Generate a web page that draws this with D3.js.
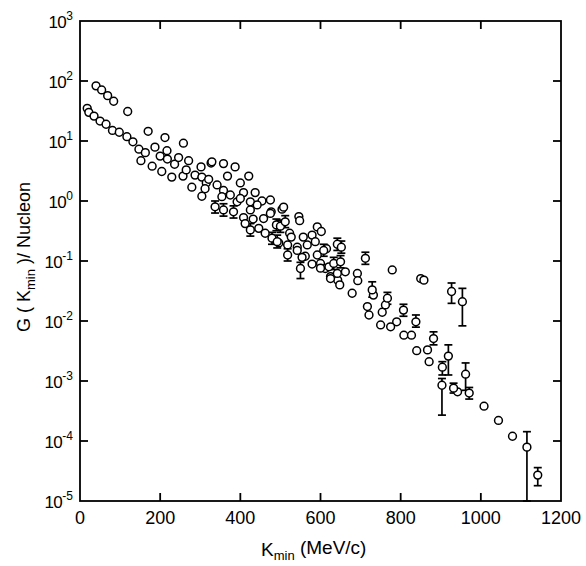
<!DOCTYPE html>
<html>
<head>
<meta charset="utf-8">
<script src="https://cdn.jsdelivr.net/npm/d3@7"></script>
<style>
  body { margin: 0; background: #fff; }
  svg text { font-family: 'Liberation Sans', Arial, sans-serif; fill: #000; }
</style>
</head>
<body>
<svg id="chart" width="586" height="566"></svg>
<script>
// plain points [K_min (MeV/c), G per nucleon]
const points = [
	[40, 83], [54, 71], [69, 57], [84, 46], [119, 31],
	[18, 35], [22, 30], [35, 26], [50, 21.5], [65, 19], [81, 15], [98, 14], [117, 11.8],
	[132, 9.7], [147, 7.3], [163, 6.4], [152, 4.7], [170, 14.5], [187, 7.9], [180, 3.8],
	[212, 11.4], [217, 6.9], [200, 5.6], [204, 3.1], [218, 5.0], [229, 2.5], [236, 4.1],
	[246, 5.3], [258, 9.2], [257, 2.6], [271, 4.7], [265, 3.3], [279, 1.7], [287, 2.7],
	[302, 3.7], [304, 2.5], [315, 2.0], [304, 1.2], [327, 4.3],
	[329, 4.5], [358, 4.2], [387, 3.7], [368, 2.6], [421, 2.6], [400, 2.0], [321, 2.3],
	[312, 1.6], [342, 1.85], [358, 1.5], [375, 1.26], [408, 1.38], [437, 1.38], [354, 1.18],
	[392, 0.97], [400, 1.1], [425, 0.97], [454, 1.0], [475, 1.04], [425, 0.71], [442, 0.86],
	[477, 0.66], [504, 0.73], [508, 0.79], [408, 0.53], [432, 0.5], [458, 0.51], [412, 0.42],
	[446, 0.35], [462, 0.29], [496, 0.2], [523, 0.29], [546, 0.55], [548, 0.47], [527, 0.25],
	[557, 0.25], [579, 0.27], [592, 0.37], [602, 0.31], [542, 0.17], [518, 0.185], [567, 0.185],
	[587, 0.21], [615, 0.16], [592, 0.126], [562, 0.12], [475, 0.62], [542, 0.15], [554, 0.115],
	[579, 0.089], [600, 0.091], [612, 0.075], [625, 0.055], [643, 0.048], [648, 0.04], [621, 0.08],
	[662, 0.066], [600, 0.076], [642, 0.062], [625, 0.051], [692, 0.062], [693, 0.047], [679, 0.029],
	[732, 0.027], [779, 0.071], [850, 0.051], [858, 0.048], [717, 0.0174], [721, 0.0126],
	[754, 0.014], [762, 0.0185], [790, 0.0097], [775, 0.008], [750, 0.0086], [808, 0.0058],
	[827, 0.0058], [840, 0.0032], [867, 0.0033], [871, 0.0021], [942, 0.00066],
	[1008, 0.00038], [1044, 0.00022], [1079, 0.00012]
];

// points with error bars [K_min, G, low, high]
const errorPoints = [
	[337, 0.80, 0.63, 1.0], [358, 0.71, 0.56, 0.9], [383, 0.66, 0.52, 0.83], [425, 0.33, 0.26, 0.42],
	[490, 0.40, 0.32, 0.5], [500, 0.38, 0.30, 0.48], [512, 0.45, 0.36, 0.57], [479, 0.24, 0.19, 0.30],
	[492, 0.21, 0.165, 0.27], [518, 0.126, 0.10, 0.16], [550, 0.075, 0.051, 0.095], [608, 0.15, 0.12, 0.19],
	[642, 0.19, 0.15, 0.24], [652, 0.17, 0.135, 0.215], [633, 0.091, 0.072, 0.115], [650, 0.097, 0.077, 0.123],
	[712, 0.111, 0.088, 0.14], [729, 0.033, 0.025, 0.045], [767, 0.024, 0.019, 0.03], [807, 0.0152, 0.012, 0.019],
	[838, 0.0097, 0.0079, 0.0126], [882, 0.0051, 0.004, 0.0066], [904, 0.0017, 0.00126, 0.0021],
	[903, 0.00085, 0.00027, 0.0011], [919, 0.0026, 0.00126, 0.004], [927, 0.031, 0.0197, 0.043],
	[954, 0.021, 0.0083, 0.035], [932, 0.00076, 0.00063, 0.00092], [962, 0.0013, 0.0007, 0.002],
	[971, 0.00063, 0.0005, 0.00078], [1115, 7.9e-5, 1e-5, 1.43e-4], [1142, 2.7e-5, 1.8e-5, 3.6e-5]
];

const xTicks = [0, 200, 400, 600, 800, 1000, 1200];
const yExponents = [-5, -4, -3, -2, -1, 0, 1, 2, 3];

const svg = d3.select('#chart');
const plot = { left: 80, right: 561, top: 21, bottom: 501 };

const x = d3.scaleLinear().domain([0, 1200]).range([plot.left, plot.right]);
const y = d3.scaleLog().domain([1e-5, 1e3]).range([plot.bottom, plot.top]);
const pow10 = (e) => Math.pow(10, e);

// frame with inward ticks on all four sides
const axisG = svg.append('g').attr('stroke', '#000').attr('stroke-width', 1.8);
axisG.append('rect')
	.attr('x', plot.left).attr('y', plot.top)
	.attr('width', plot.right - plot.left).attr('height', plot.bottom - plot.top)
	.attr('fill', 'none');

const inner = xTicks.slice(1, -1);
const innerY = yExponents.slice(1, -1);
axisG.append('g').selectAll('line')
	.data(inner)
	.join('line')
	.attr('x1', (d) => x(d)).attr('x2', (d) => x(d))
	.attr('y1', plot.bottom).attr('y2', plot.bottom - 8);
axisG.append('g').selectAll('line')
	.data(inner)
	.join('line')
	.attr('x1', (d) => x(d)).attr('x2', (d) => x(d))
	.attr('y1', plot.top).attr('y2', plot.top + 8);
axisG.append('g').selectAll('line')
	.data(innerY)
	.join('line')
	.attr('x1', plot.left).attr('x2', plot.left + 8)
	.attr('y1', (e) => y(pow10(e))).attr('y2', (e) => y(pow10(e)));
axisG.append('g').selectAll('line')
	.data(innerY)
	.join('line')
	.attr('x1', plot.right).attr('x2', plot.right - 8)
	.attr('y1', (e) => y(pow10(e))).attr('y2', (e) => y(pow10(e)));

// tick labels
svg.append('g')
	.selectAll('text')
	.data(xTicks)
	.join('text')
	.attr('x', (d) => x(d))
	.attr('y', plot.bottom + 23)
	.attr('text-anchor', 'middle')
	.attr('font-size', 18)
	.text((d) => d);

const yLab = svg.append('g')
	.selectAll('text')
	.data(yExponents)
	.join('text')
	.attr('x', plot.left - 7)
	.attr('y', (e) => y(pow10(e)) + 7)
	.attr('text-anchor', 'end')
	.attr('font-size', 17);
yLab.append('tspan').attr('letter-spacing', -0.5).text('10');
yLab.append('tspan')
	.attr('dy', -8)
	.attr('font-size', 12)
	.text((e) => (e < 0 ? '-' + Math.abs(e) : e));

// axis titles
const xTitle = svg.append('text')
	.attr('x', 261).attr('y', 556)
	.attr('font-size', 19);
xTitle.append('tspan').text('K');
xTitle.append('tspan').attr('dy', 4).attr('font-size', 13).text('min');
xTitle.append('tspan').attr('dy', -6).text(' (MeV/c)');

const yTitle = svg.append('text')
	.attr('transform', 'translate(30, 257) rotate(-90)')
	.attr('text-anchor', 'middle')
	.attr('font-size', 18);
yTitle.append('tspan').text('G ( K');
yTitle.append('tspan').attr('dy', 5).attr('font-size', 13).text('min');
yTitle.append('tspan').attr('dy', -5).text(' )/ Nucleon');

// error bars
const eb = svg.append('g').attr('stroke', '#000').attr('stroke-width', 1.7);
eb.append('g').selectAll('line')
	.data(errorPoints)
	.join('line')
	.attr('x1', (d) => x(d[0])).attr('x2', (d) => x(d[0]))
	.attr('y1', (d) => y(d[2])).attr('y2', (d) => y(d[3]));
eb.append('g').selectAll('line')
	.data(errorPoints)
	.join('line')
	.attr('x1', (d) => x(d[0]) - 4).attr('x2', (d) => x(d[0]) + 4)
	.attr('y1', (d) => y(d[2])).attr('y2', (d) => y(d[2]));
eb.append('g').selectAll('line')
	.data(errorPoints)
	.join('line')
	.attr('x1', (d) => x(d[0]) - 4).attr('x2', (d) => x(d[0]) + 4)
	.attr('y1', (d) => y(d[3])).attr('y2', (d) => y(d[3]));

// open circles
svg.append('g')
	.selectAll('circle')
	.data(points.concat(errorPoints.map((d) => [d[0], d[1]])))
	.join('circle')
	.attr('cx', (d) => x(d[0]))
	.attr('cy', (d) => y(d[1]))
	.attr('r', 3.9)
	.attr('fill', '#fff')
	.attr('stroke', '#000')
	.attr('stroke-width', 1.5);
</script>
</body>
</html>
